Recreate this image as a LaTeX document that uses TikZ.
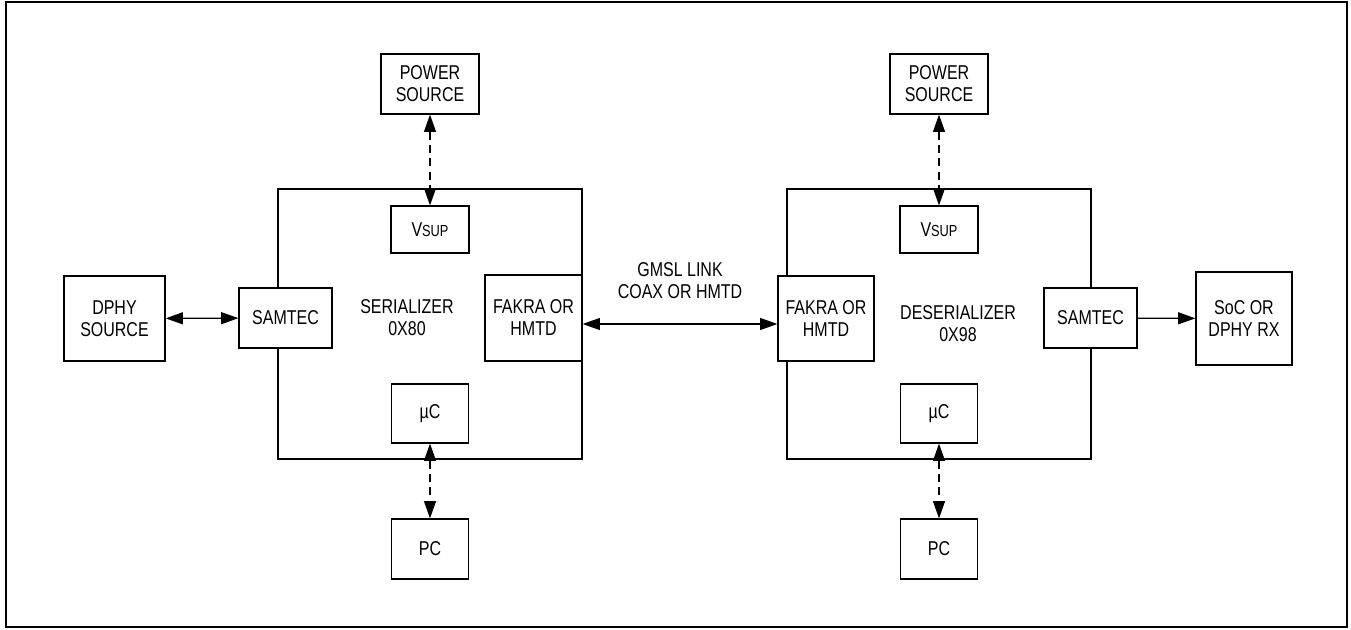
\documentclass[tikz,border=0pt]{standalone}
\usepackage{fontspec}
\setmainfont{Liberation Sans}[FakeStretch=0.8]
\usetikzlibrary{arrows.meta}
\tikzset{
  blk/.style 2 args={draw, line width=0.9pt, fill=white, inner sep=0pt, align=center,
    minimum width=#1*0.75pt, minimum height=#2*0.75pt},
  chip/.style 2 args={draw, line width=0.9pt, inner sep=0pt,
    minimum width=#1*0.75pt, minimum height=#2*0.75pt},
  lnk/.style={line width=0.9pt},
  dsh/.style={line width=0.9pt, dash pattern=on 6pt off 4pt}
}
\newcommand{\vsup}{V{\fontsize{12}{12}\selectfont SUP}}
\begin{document}
\begin{tikzpicture}[x=0.75pt,y=-0.75pt,>={Triangle[length=13pt,width=9pt]},
  font=\fontsize{15}{16.5}\selectfont]
  \useasboundingbox (0,0) rectangle (1351,629);
  \draw[line width=1.6pt] (6,2) rectangle (1347,627);
  % serializer side
  \node[chip={304}{270}] (ser) at (430,324) {};
  \node[align=center] (serTxt) at (407,318) {SERIALIZER\\0X80};
  \node[blk={101}{85}] (dphy) at (114.5,318.5) {DPHY\\SOURCE};
  \node[blk={93}{60}] (samL) at (285.5,318) {SAMTEC};
  \node[blk={98}{60}] (pwrL) at (430,84) {POWER\\SOURCE};
  \node[blk={78}{47}] (vsupL) at (430,229.5) {\vsup};
  \node[blk={97}{86}] (fakL) at (533.5,318) {FAKRA OR\\HMTD};
  \node[blk={77}{59}] (ucL) at (430,413.5) {µC};
  \node[blk={77}{60}] (pcL) at (430,549) {PC};
  % deserializer side
  \node[chip={304}{270}] (des) at (939,324) {};
  \node[align=center] (desTxt) at (958,324) {DESERIALIZER\\0X98};
  \node[blk={98}{60}] (pwrR) at (939,84) {POWER\\SOURCE};
  \node[blk={78}{47}] (vsupR) at (939,229.5) {\vsup};
  \node[blk={96}{85}] (fakR) at (826,318.5) {FAKRA OR\\HMTD};
  \node[blk={93}{60}] (samR) at (1090.5,318) {SAMTEC};
  \node[blk={77}{59}] (ucR) at (939,413.5) {µC};
  \node[blk={77}{60}] (pcR) at (939,549) {PC};
  \node[blk={96}{93}] (soc) at (1244,318.5) {SoC OR\\DPHY RX};
  % link
  \coordinate (link) at (680,324);
  \node[align=center] (linkTxt) at (680,281) {GMSL LINK\\COAX OR HMTD};
  \draw[lnk,<->] (fakL.east |- link) -- (fakR.west |- link);
  \draw[lnk,<->] (dphy) -- (samL);
  \draw[lnk,->] (samR) -- (soc);
  \foreach \s in {L,R}{
    \draw[dsh,<->] (pwr\s) -- (vsup\s);
    \draw[dsh,<->] (uc\s) -- (pc\s);
  }
\end{tikzpicture}
\end{document}
